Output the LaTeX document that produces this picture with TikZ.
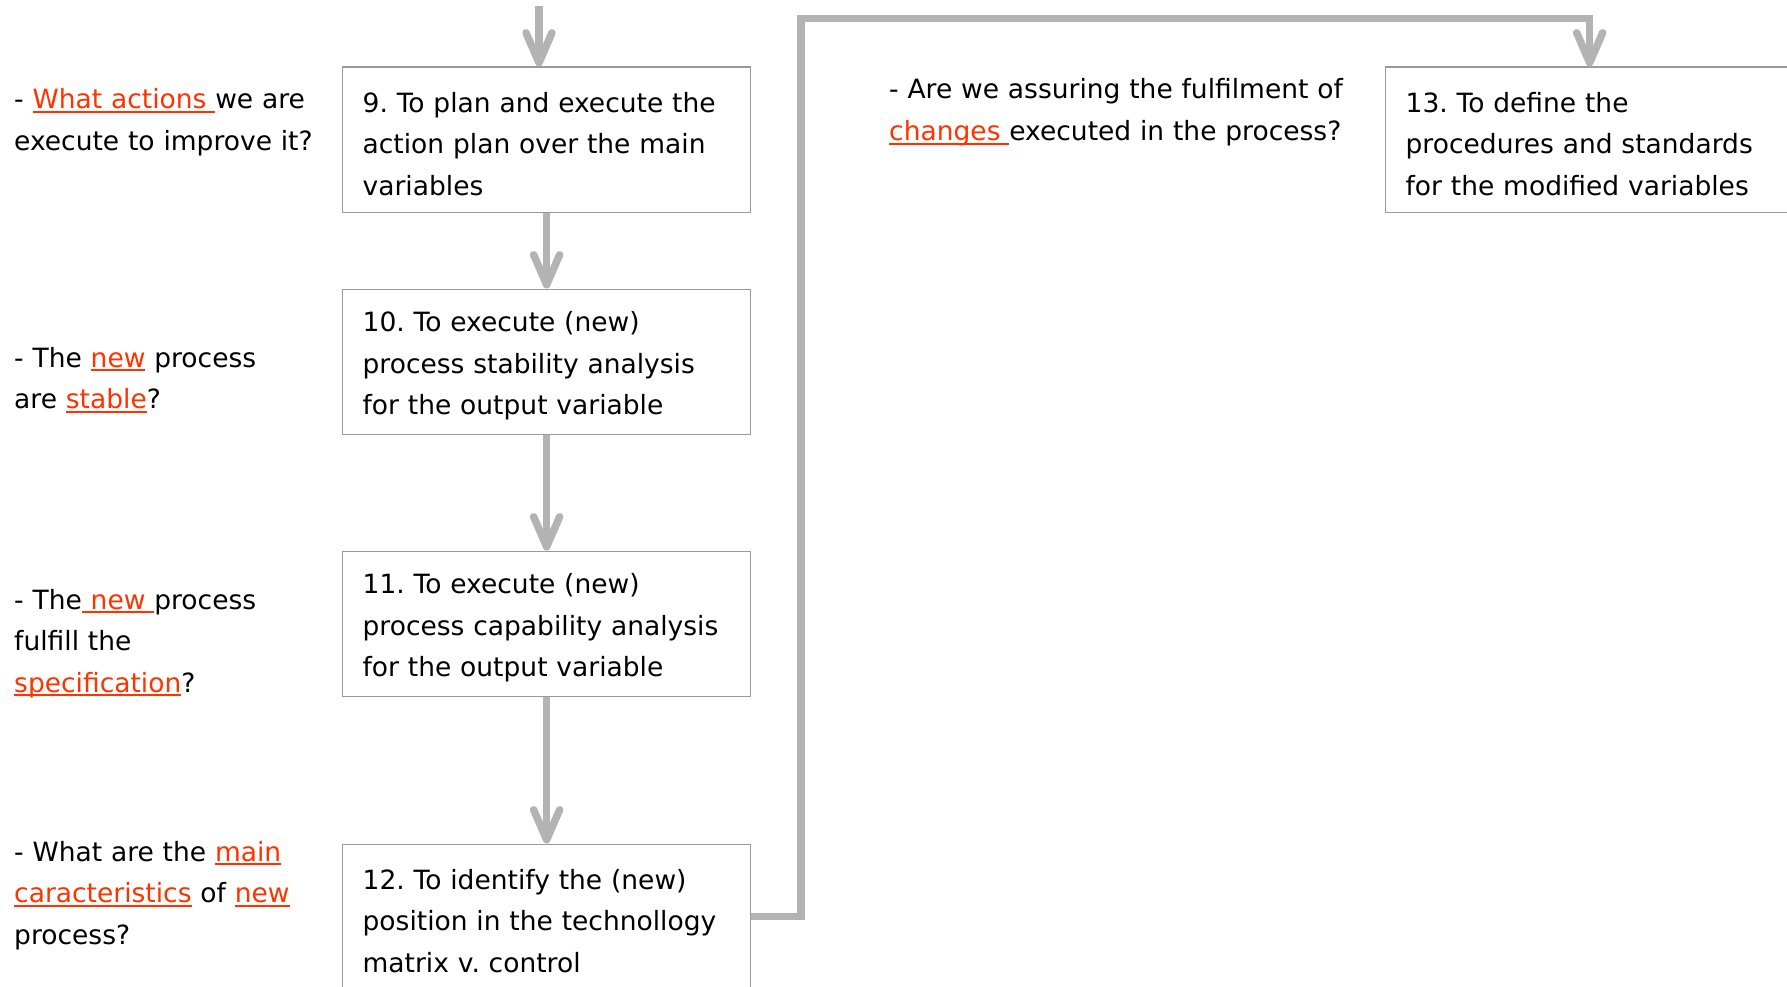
\documentclass[tikz,border=0pt]{standalone}
\usepackage{fontspec}
\setmainfont{DejaVu Sans}
\usetikzlibrary{arrows.meta}

\definecolor{linkred}{HTML}{FF3300}
\definecolor{flowgray}{HTML}{B3B3B3}
\definecolor{boxline}{HTML}{9A9A9A}

% red underlined keyword (the underline spans spaces too)
\newcommand\redul[1]{\leavevmode{\color{linkred}\setbox0=\hbox{#1}\rlap{\rule[-4.4pt]{\wd0}{2.3pt}}\box0}}
\newcommand\diagfont{\fontsize{26.5}{41.5}\selectfont\frenchspacing}

\begin{document}
\begin{tikzpicture}[x=1pt,y=-1pt,
  stepbox/.style={draw=boxline, line width=1.3pt, fill=white,
    minimum width=408pt, minimum height=145pt, text width=368pt,
    inner xsep=20pt, inner ysep=0pt, align=left, font=\diagfont,
    anchor=north west, execute at begin node={\rule{0pt}{29pt}}},
  note/.style={anchor=base west, align=left, inner sep=0pt,
    font=\diagfont},
  flow/.style={draw=flowgray, line width=7.5pt,
    -{Straight Barb[length=30pt, width=26pt, round]}},
  route/.style={draw=flowgray, line width=7.5pt}
]
\useasboundingbox (0,0) rectangle (1787,987);
\fill[white] (0,0) rectangle (1787,987);
\clip (0,0) rectangle (1787,987);

% process steps
\node[stepbox] (b9)  at (342,66.5)  {9. To plan and execute the\\action plan over the main\\variables};
\node[stepbox] (b10) at (342,288.5) {10. To execute (new)\\process stability analysis\\for the output variable};
\node[stepbox] (b11) at (342,550.5) {11. To execute (new)\\process capability analysis\\for the output variable};
\node[stepbox] (b12) at (342,843.5) {12. To identify the (new)\\position in the technollogy\\matrix v. control};
\node[stepbox] (b13) at (1385,66.5) {13. To define the\\procedures and standards\\for the modified variables};

% guiding questions
\node[note, text width=330pt] (q9)  at (14,109)  {- \redul{What actions }we are\\execute to improve it?};
\node[note, text width=330pt] (q10) at (14,367)  {- The \redul{new} process\\are \redul{stable}?};
\node[note, text width=330pt] (q11) at (14,609)  {- The\redul{ new }process\\fulfill the\\\redul{specification}?};
\node[note, text width=330pt] (q12) at (14,861)  {- What are the \redul{main}\\\redul{caracteristics} of \redul{new}\\process?};
\node[note, text width=480pt] (q13) at (889,99)  {- Are we assuring the fulfilment of\\\redul{changes }executed in the process?};

% flow connectors
\coordinate (in9) at (539,6);
\draw[flow] (in9) -- (in9 |- b9.north);
\draw[flow] (b9.south) -- (b10.north);
\draw[flow] (b10.south) -- (b11.north);
\draw[flow] (b11.south) -- (b12.north);
\coordinate (turn) at (801,18.5);
\draw[route] (b12.east) -| (turn);
\draw[flow] (turn |- b12.east) -- (turn) -| (b13.north);
\end{tikzpicture}
\end{document}
